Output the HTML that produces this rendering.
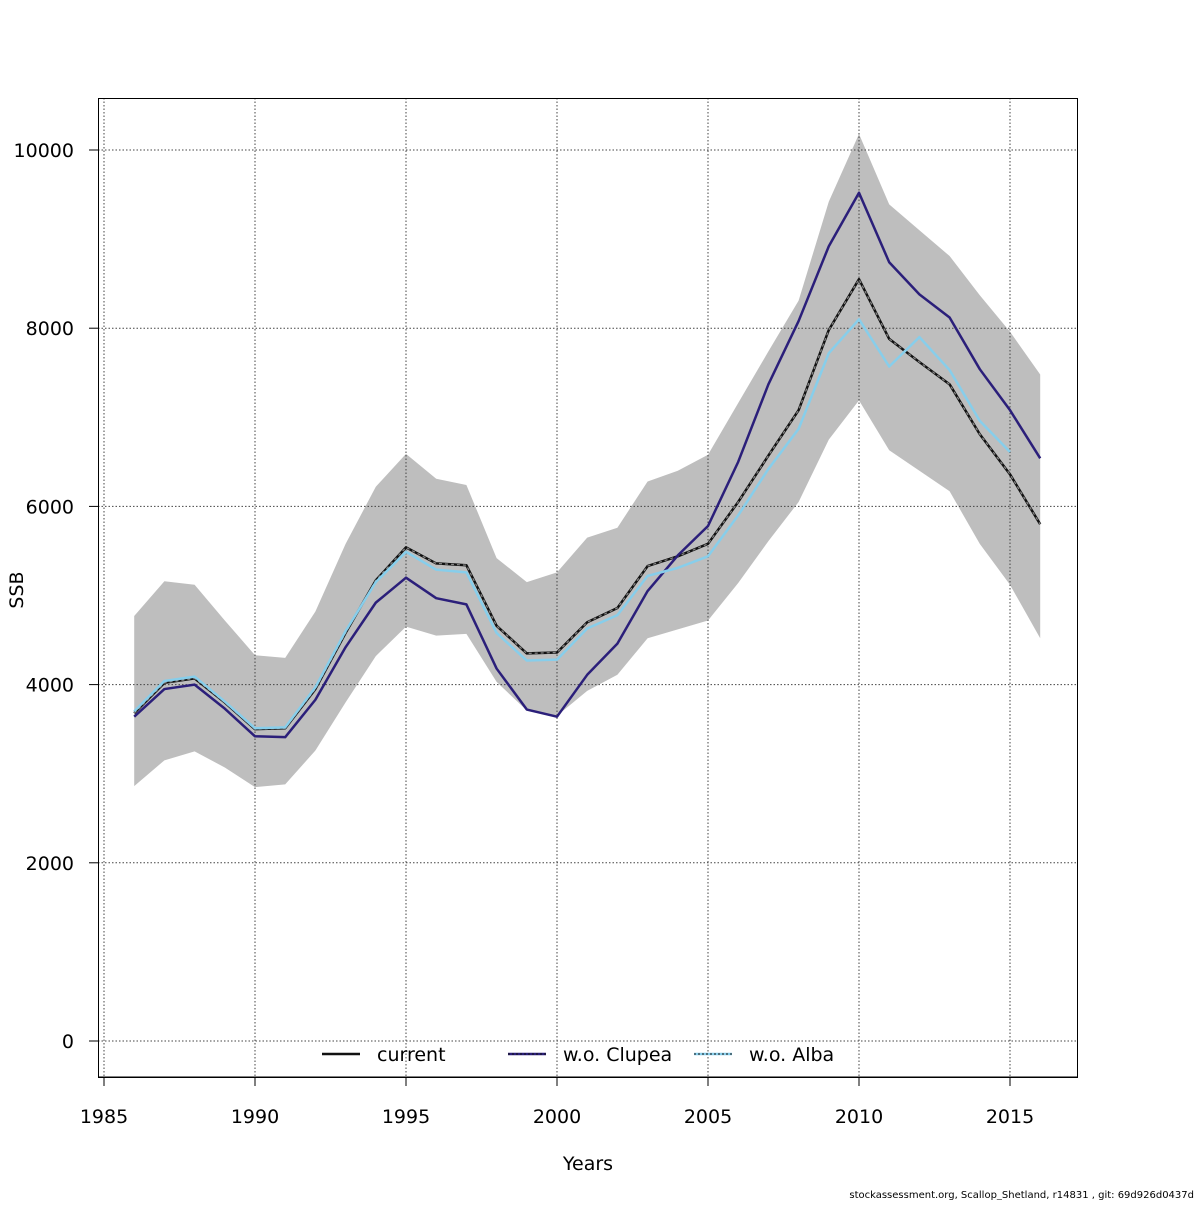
<!DOCTYPE html>
<html><head><meta charset="utf-8"><style>
body{margin:0;background:#fff;}
svg text{font-family:"DejaVu Sans","Liberation Sans",sans-serif;}
</style></head><body>
<svg id="chart" width="1200" height="1200" xmlns="http://www.w3.org/2000/svg">
<rect width="1200" height="1200" fill="#fff"/>
<g id="band"></g><g id="grid"></g><g id="lines"></g>
<rect x="98.5" y="98.5" width="979" height="979" fill="none" stroke="#000" stroke-width="1"/>
<g id="axes"></g>
<text x="588" y="1170" font-size="19" text-anchor="middle">Years</text>
<text transform="translate(23,590) rotate(-90)" font-size="19" text-anchor="middle">SSB</text>
<text x="1194" y="1198" font-size="10" text-anchor="end">stockassessment.org, Scallop_Shetland, r14831 , git: 69d926d0437d</text>
<g>
<line x1="322" y1="1054" x2="360" y2="1054" stroke="#111" stroke-width="2.5"/>
<text x="377" y="1061" font-size="19">current</text>
<line x1="508" y1="1054" x2="546" y2="1054" stroke="#2b1f7a" stroke-width="2.5"/>
<line x1="508" y1="1054" x2="546" y2="1054" stroke="#111" stroke-width="1" stroke-dasharray="2,2"/>
<text x="563" y="1061" font-size="19">w.o. Clupea</text>
<line x1="694" y1="1054" x2="732" y2="1054" stroke="#87ceeb" stroke-width="2.5"/>
<line x1="694" y1="1054" x2="732" y2="1054" stroke="#111" stroke-width="1" stroke-dasharray="2,2"/>
<text x="749" y="1061" font-size="19">w.o. Alba</text>
</g>
</svg>
<script>
const years=[1986,1987,1988,1989,1990,1991,1992,1993,1994,1995,1996,1997,1998,1999,2000,2001,2002,2003,2004,2005,2006,2007,2008,2009,2010,2011,2012,2013,2014,2015,2016];
const current=[3680,4020,4070,3800,3500,3510,3950,4580,5170,5540,5360,5340,4660,4350,4360,4700,4860,5330,5440,5580,6050,6570,7080,7980,8550,7880,7620,7370,6810,6360,5800];
const clupea=[3640,3950,4000,3730,3420,3410,3830,4420,4920,5200,4970,4900,4180,3720,3640,4110,4460,5050,5450,5780,6500,7370,8080,8920,9520,8740,8380,8120,7540,7080,6540];
const alba=[3700,4040,4090,3810,3510,3520,3970,4600,5150,5490,5290,5260,4580,4270,4280,4630,4780,5220,5310,5440,5900,6420,6870,7720,8100,7570,7900,7530,6960,6610];
const upper=[4770,5160,5120,4720,4330,4300,4820,5580,6220,6590,6310,6240,5420,5150,5260,5650,5760,6280,6400,6580,7160,7740,8310,9420,10180,9390,9100,8810,8370,7960,7480];
const lower=[2860,3150,3250,3070,2850,2880,3260,3800,4320,4650,4550,4570,4030,3710,3650,3930,4110,4520,4620,4720,5140,5610,6050,6750,7190,6630,6400,6170,5580,5120,4520];
const xTicks=[1985,1990,1995,2000,2005,2010,2015];
const yTicks=[0,2000,4000,6000,8000,10000];
const NS="http://www.w3.org/2000/svg";
const X=y=>104+(y-1985)*30.2;
const Y=v=>1041-v*0.0891;
function mk(tag,attrs,parent){const e=document.createElementNS(NS,tag);for(const k in attrs)e.setAttribute(k,attrs[k]);document.getElementById(parent).appendChild(e);return e;}
let bp=years.map((y,i)=>X(y)+","+Y(upper[i])).join(" ")+" "+years.slice().reverse().map((y,j)=>X(y)+","+Y(lower[years.length-1-j])).join(" ");
const band=mk("polygon",{points:bp,fill:"#bebebe"},"band");


xTicks.forEach(t=>{
 const g=mk("line",{x1:X(t),x2:X(t),y1:98,y2:1077,stroke:"#444","stroke-dasharray":"1.5,2","stroke-width":1},"grid");
 
 
 mk("line",{x1:X(t),x2:X(t),y1:1077,y2:1086,stroke:"#000"},"axes");
 const tx=mk("text",{x:X(t),y:1123,"font-size":19,"text-anchor":"middle"},"axes");tx.textContent=t;
 
 
});
yTicks.forEach(t=>{
 const g=mk("line",{x1:98,x2:1077,y1:Y(t),y2:Y(t),stroke:"#444","stroke-dasharray":"1.5,2","stroke-width":1},"grid");
 
 
 mk("line",{x1:89,x2:98,y1:Y(t),y2:Y(t),stroke:"#000"},"axes");
 const tx=mk("text",{x:74,y:Y(t)+7,"font-size":19,"text-anchor":"end"},"axes");tx.textContent=t;
 
 
});
mk("line",{x1:98,x2:1077,y1:1077,y2:1077,stroke:"#000"},"axes");
function series(vals,color,name,dash){
 const pts=vals.map((v,i)=>X(years[i])+","+Y(v)).join(" ");
 const l=mk("polyline",{points:pts,fill:"none",stroke:color,"stroke-width":2.5,"stroke-linejoin":"round"},"lines");
 
 
 if(dash){mk("polyline",{points:pts,fill:"none",stroke:dash,"stroke-width":1.2,"stroke-dasharray":"3,3"},"lines");}
}
series(current,"#111","line-current","#888");
series(clupea,"#2b1f7a","line-wo-clupea",null);
series(alba,"#87ceeb","line-wo-alba",null);
</script>
</body></html>
